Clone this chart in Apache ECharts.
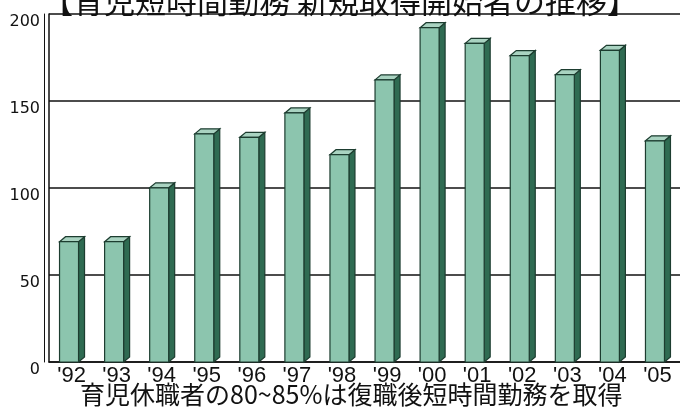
<!DOCTYPE html>
<html style="height: 100%">
<head>
<meta charset="UTF-8">
</head>
<body style="height: 100%; margin: 0; background: #fff">
<div id="container" style="width: 680px; height: 416px"></div>
<script src="https://cdn.jsdelivr.net/npm/echarts@6/dist/echarts.min.js"></script>
<script type="text/javascript">
var years = ["'92", "'93", "'94", "'95", "'96", "'97", "'98", "'99", "'00", "'01", "'02", "'03", "'04", "'05"];
var starters = [72, 72, 103, 134, 132, 146, 122, 165, 195, 186, 179, 168, 182, 130];
var yTicks = [0, 50, 100, 150, 200];

var chart = echarts.init(document.getElementById('container'));

// 3D bar: front face + dark side + light top
function renderBar(params, api) {
	var top = api.coord([api.value(0), api.value(1)]);
	var base = api.coord([api.value(0), 0]);
	var cx = top[0], ty = top[1] + 5, by = base[1];
	var x0 = cx - 12, x1 = cx + 7, dx = 6, dy = 5;
	var line = { stroke: '#1d3d30', lineWidth: 1.2 };
	return {
		type: 'group',
		children: [
			{ type: 'polygon', shape: { points: [[x1, ty], [x1 + dx, ty - dy], [x1 + dx, by - dy], [x1, by]] },
			  style: Object.assign({ fill: '#2f6b52' }, line) },
			{ type: 'polygon', shape: { points: [[x0, ty], [x0 + dx, ty - dy], [x1 + dx, ty - dy], [x1, ty]] },
			  style: Object.assign({ fill: '#a9d3c1' }, line) },
			{ type: 'rect', shape: { x: x0, y: ty, width: x1 - x0, height: by - ty },
			  style: Object.assign({ fill: '#8cc5ae' }, line) }
		]
	};
}

option = {
	animation: false,
	title: {
		text: '【育児短時間勤務 新規取得開始者の推移】',
		left: 'center',
		top: -19,
		textStyle: { fontFamily: 'Noto Sans CJK JP', fontSize: 31, fontWeight: 'normal', color: '#111' }
	},
	graphic: [{
		type: 'text',
		left: 80,
		top: 382,
		style: { text: '育児休職者の80~85%は復職後短時間勤務を取得', font: '25px "Noto Sans CJK JP"', fill: '#111' }
	}],
	grid: { left: 49, right: -6, top: 14, bottom: 54 },
	xAxis: {
		type: 'category',
		data: years,
		axisLine: { lineStyle: { color: '#111', width: 1.5 } },
		axisTick: { show: false },
		axisLabel: { color: '#111', fontSize: 22, fontFamily: 'Liberation Sans', margin: 3 }
	},
	yAxis: [{
		type: 'value',
		min: yTicks[0],
		max: yTicks[yTicks.length - 1],
		interval: 50,
		axisLine: { show: true, lineStyle: { color: '#111', width: 1.5 } },
		axisTick: { show: false },
		splitLine: { lineStyle: { color: '#111', width: 1.5 } },
		axisLabel: { color: '#111', fontSize: 16, fontFamily: 'DejaVu Sans', margin: 9, verticalAlign: 'top' }
	}, {
		type: 'value',
		position: 'left',
		offset: 5,
		min: yTicks[0],
		max: yTicks[yTicks.length - 1],
		interval: 50,
		axisLine: { show: true, lineStyle: { color: '#111', width: 1 } },
		axisTick: { show: false },
		axisLabel: { show: false },
		splitLine: { show: false }
	}],
	series: [{
		type: 'custom',
		renderItem: renderBar,
		encode: { x: 0, y: 1 },
		data: starters.map(function (v, i) { return [i, v]; })
	}]
};

chart.setOption(option);
</script>
</body>
</html>
